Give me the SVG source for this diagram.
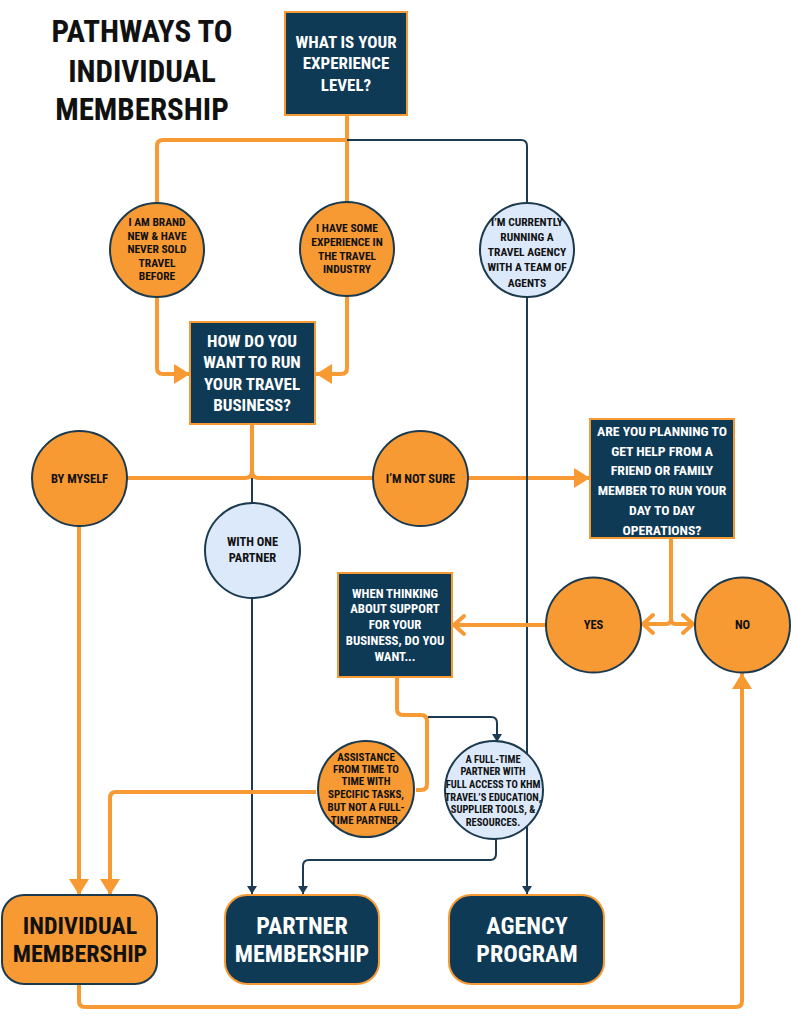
<svg xmlns="http://www.w3.org/2000/svg" width="791" height="1024" viewBox="0 0 791 1024">
<style>
text{font-family:"Liberation Sans Narrow","Roboto Condensed",Roboto,"DejaVu Sans Condensed",sans-serif;font-weight:700;text-anchor:middle}
.title{font-size:31px;fill:#111}
.bt{font-size:17px;fill:#fff}
.bs{font-size:13.7px;fill:#fff}
.ct{font-size:11.5px;fill:#111}
.cm{font-size:12.5px;fill:#111}
.big{font-size:24px}
.box{fill:#0e3a56;stroke:#f89a34;stroke-width:2}
.oc{fill:#f89a34;stroke:#1c3a4e;stroke-width:2}
.bc{fill:#dce9fb;stroke:#1c3a4e;stroke-width:2}
.o{fill:none;stroke:#f89a34;stroke-width:4}
.n{fill:none;stroke:#1c3a52;stroke-width:2}
</style>
<defs>
<marker id="ao" markerUnits="userSpaceOnUse" markerWidth="18" markerHeight="20" refX="16" refY="10" orient="auto" overflow="visible"><path d="M0,0 L16,10 L0,20 z" fill="#f89a34"/></marker>
<marker id="ac" markerUnits="userSpaceOnUse" markerWidth="14" markerHeight="22" refX="11" refY="10" orient="auto" overflow="visible"><path d="M1,1 L11,10 L1,19" fill="none" stroke="#f89a34" stroke-width="4" stroke-linecap="round" stroke-linejoin="round"/></marker>
<marker id="an" markerUnits="userSpaceOnUse" markerWidth="9" markerHeight="10" refX="8" refY="5" orient="auto" overflow="visible"><path d="M0,0 L8,5 L0,10 z" fill="#1c3a52"/></marker>
</defs>
<rect width="791" height="1024" fill="#fff"/>
<g id="title">
<text class="title" x="142" y="42">PATHWAYS TO</text>
<text class="title" x="142" y="82">INDIVIDUAL</text>
<text class="title" x="142" y="120">MEMBERSHIP</text>
</g>
<g id="connectors">
<path class="o" d="M347,115 V203"/>
<path class="o" d="M347,140 H163 Q157,140 157,146 V203"/>
<path class="n" d="M347,140 H521 Q527,140 527,146 V203"/>
<path class="o" d="M157,297 V368 Q157,374 163,374 H190" marker-end="url(#ao)"/>
<path class="o" d="M347,296 V368 Q347,374 341,374 H316" marker-end="url(#ao)"/>
<path class="o" d="M252,425 V471 Q252,478 245,478 H127"/>
<path class="o" d="M252,425 V471 Q252,478 259,478 H374"/>
<path class="n" d="M252,478 V503"/>
<path class="o" d="M468,478 H590" marker-end="url(#ao)"/>
<path class="o" d="M79,526 V895" marker-end="url(#ao)"/>
<path class="n" d="M252,598 V894" marker-end="url(#an)"/>
<path class="n" d="M527,297 V894" marker-end="url(#an)"/>
<path class="o" d="M671,538 V619 Q671,624 666,624 H643" marker-end="url(#ac)"/>
<path class="o" d="M671,538 V619 Q671,624 676,624 H693" marker-end="url(#ac)"/>
<path class="o" d="M546,625 H454" marker-end="url(#ac)"/>
<path class="o" d="M397,677 V709 Q397,715 403,715 H421 Q427,715 427,721 V784 Q427,790 421,790 H416"/>
<path class="o" d="M316,792 H116 Q110,792 110,798 V895" marker-end="url(#ao)"/>
<path class="n" d="M428,717 H491 Q497,717 497,723 V742" marker-end="url(#an)"/>
<path class="n" d="M496,838 V854 Q496,860 490,860 H309 Q303,860 303,866 V894" marker-end="url(#an)"/>
<path class="o" d="M79,984 V1001 Q79,1007 85,1007 H736 Q742,1007 742,1001 V673" marker-end="url(#ao)"/>
</g>
<g id="q-experience">
<rect class="box" x="285" y="12" width="122" height="103"/>
<text class="bt" x="346" y="48">WHAT IS YOUR</text>
<text class="bt" x="346" y="69">EXPERIENCE</text>
<text class="bt" x="346" y="91">LEVEL?</text>
</g>
<g id="a-brand-new">
<circle class="oc" cx="157" cy="250" r="47"/>
<text class="ct" x="157" y="226">I AM BRAND</text>
<text class="ct" x="157" y="240">NEW &amp; HAVE</text>
<text class="ct" x="157" y="253">NEVER SOLD</text>
<text class="ct" x="157" y="267">TRAVEL</text>
<text class="ct" x="157" y="280">BEFORE</text>
</g>
<g id="a-some-experience">
<circle class="oc" cx="347" cy="249" r="47"/>
<text class="ct" x="347" y="232">I HAVE SOME</text>
<text class="ct" x="347" y="246">EXPERIENCE IN</text>
<text class="ct" x="347" y="260">THE TRAVEL</text>
<text class="ct" x="347" y="273">INDUSTRY</text>
</g>
<g id="a-agency">
<circle class="bc" cx="527" cy="250" r="47"/>
<text class="ct" x="527" y="226">I’M CURRENTLY</text>
<text class="ct" x="527" y="241">RUNNING A</text>
<text class="ct" x="527" y="256">TRAVEL AGENCY</text>
<text class="ct" x="527" y="271">WITH A TEAM OF</text>
<text class="ct" x="527" y="287">AGENTS</text>
</g>
<g id="q-run">
<rect class="box" x="190" y="322" width="125" height="102"/>
<text class="bt" x="252" y="347">HOW DO YOU</text>
<text class="bt" x="252" y="368">WANT TO RUN</text>
<text class="bt" x="252" y="390">YOUR TRAVEL</text>
<text class="bt" x="252" y="411">BUSINESS?</text>
</g>
<g id="a-by-myself">
<circle class="oc" cx="79.5" cy="478.5" r="47.5"/>
<text class="cm" x="79.5" y="483">BY MYSELF</text>
</g>
<g id="a-one-partner">
<circle class="bc" cx="252.5" cy="550.5" r="47.5"/>
<text class="cm" x="252.5" y="546">WITH ONE</text>
<text class="cm" x="252.5" y="562">PARTNER</text>
</g>
<g id="a-not-sure">
<circle class="oc" cx="420.5" cy="478.5" r="47.5"/>
<text class="cm" x="420.5" y="483">I’M NOT SURE</text>
</g>
<g id="q-help">
<rect class="box" x="590" y="419" width="144" height="119"/>
<text class="bs" x="662" y="436">ARE YOU PLANNING TO</text>
<text class="bs" x="662" y="456">GET HELP FROM A</text>
<text class="bs" x="662" y="475">FRIEND OR FAMILY</text>
<text class="bs" x="662" y="495">MEMBER TO RUN YOUR</text>
<text class="bs" x="662" y="515">DAY TO DAY</text>
<text class="bs" x="662" y="535">OPERATIONS?</text>
</g>
<g id="a-yes">
<circle class="oc" cx="593.5" cy="625" r="47.5"/>
<text class="cm" x="593.5" y="629">YES</text>
</g>
<g id="a-no">
<circle class="oc" cx="742.5" cy="625" r="47.5"/>
<text class="cm" x="742.5" y="629">NO</text>
</g>
<g id="q-support">
<rect class="box" x="338" y="573" width="114" height="104"/>
<text class="bs" x="395" y="598" style="font-size:12.8px">WHEN THINKING</text>
<text class="bs" x="395" y="613" style="font-size:12.8px">ABOUT SUPPORT</text>
<text class="bs" x="395" y="629" style="font-size:12.8px">FOR YOUR</text>
<text class="bs" x="395" y="645" style="font-size:12.8px">BUSINESS, DO YOU</text>
<text class="bs" x="395" y="661" style="font-size:12.8px">WANT...</text>
</g>
<g id="a-assistance">
<circle class="oc" cx="366" cy="789" r="48"/>
<text class="ct" x="366" y="761" style="font-size:11px">ASSISTANCE</text>
<text class="ct" x="366" y="773" style="font-size:11px">FROM TIME TO</text>
<text class="ct" x="366" y="785" style="font-size:11px">TIME WITH</text>
<text class="ct" x="366" y="798" style="font-size:11px">SPECIFIC TASKS,</text>
<text class="ct" x="366" y="811" style="font-size:11px">BUT NOT A FULL-</text>
<text class="ct" x="366" y="824" style="font-size:11px">TIME PARTNER.</text>
</g>
<g id="a-full-time">
<circle class="bc" cx="494" cy="790" r="49"/>
<text class="ct" x="493" y="763" style="font-size:10.5px">A FULL-TIME</text>
<text class="ct" x="493" y="775" style="font-size:10.5px">PARTNER WITH</text>
<text class="ct" x="493" y="788" style="font-size:10.5px">FULL ACCESS TO KHM</text>
<text class="ct" x="493" y="801" style="font-size:10.5px">TRAVEL’S EDUCATION,</text>
<text class="ct" x="493" y="813" style="font-size:10.5px">SUPPLIER TOOLS, &amp;</text>
<text class="ct" x="493" y="826" style="font-size:10.5px">RESOURCES.</text>
</g>
<g id="r-individual">
<rect x="2" y="895" width="155" height="89" rx="22" fill="#f89a34" stroke="#1c3a4e" stroke-width="2"/>
<text class="big" x="80" y="934" fill="#111">INDIVIDUAL</text>
<text class="big" x="80" y="962" fill="#111">MEMBERSHIP</text>
</g>
<g id="r-partner">
<rect class="box" x="225" y="895" width="154" height="89" rx="22"/>
<text class="big" x="302" y="934" fill="#fff">PARTNER</text>
<text class="big" x="302" y="962" fill="#fff">MEMBERSHIP</text>
</g>
<g id="r-agency">
<rect class="box" x="449" y="895" width="155" height="89" rx="22"/>
<text class="big" x="527" y="934" fill="#fff">AGENCY</text>
<text class="big" x="527" y="962" fill="#fff">PROGRAM</text>
</g>
</svg>
